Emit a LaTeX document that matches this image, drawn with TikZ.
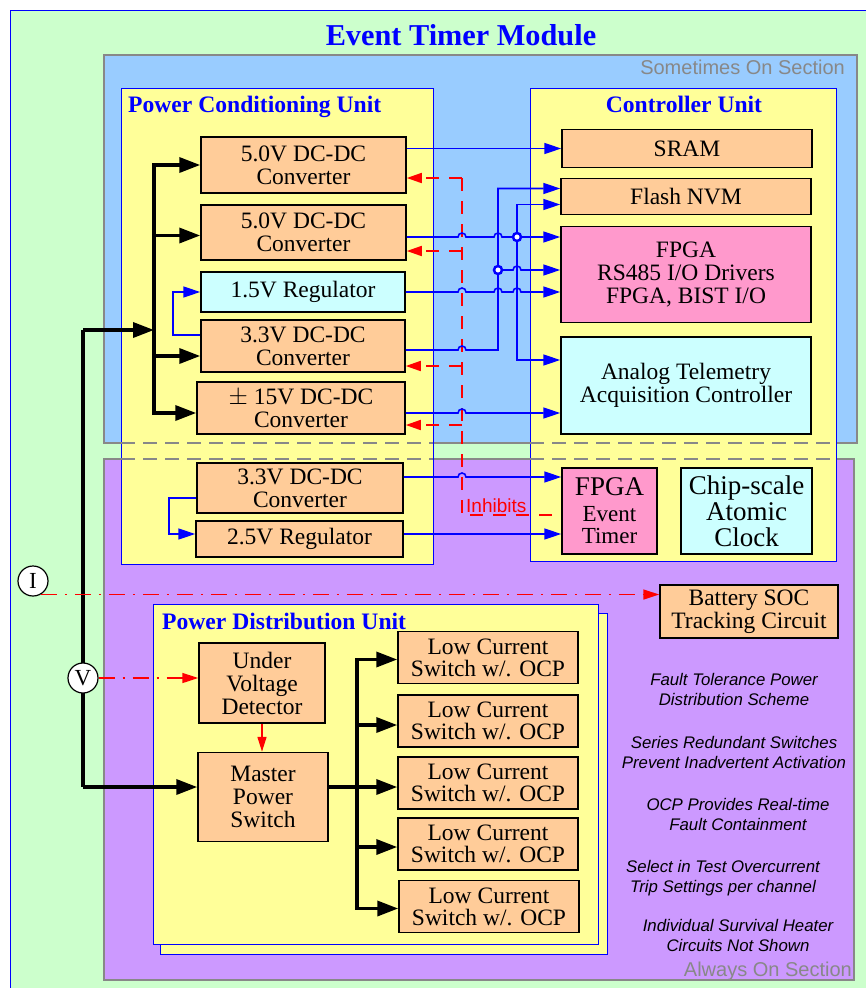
\documentclass[tikz,border=0pt]{standalone}
\usepackage{fontspec}
\setmainfont{Liberation Serif}
\newfontfamily\sansfont{Liberation Sans}
\usetikzlibrary{arrows.meta,positioning,calc}
\definecolor{bggreen}{HTML}{CCFFCC}
\definecolor{sometimes}{HTML}{99CCFF}
\definecolor{always}{HTML}{CC99FF}
\definecolor{unitbg}{HTML}{FFFF99}
\definecolor{peach}{HTML}{FFCC99}
\definecolor{pinkish}{HTML}{FF99CC}
\definecolor{ice}{HTML}{CCFFFF}
\definecolor{wire}{HTML}{0000FF}
\definecolor{secgray}{HTML}{888888}

\begin{document}
\begin{tikzpicture}[x=1pt,y=-1pt,>=Latex]
  \tikzset{
    block/.style={draw=black,line width=1.5pt,fill=peach,align=center,inner sep=0pt,font=\fontsize{23.5}{23}\selectfont},
    section/.style={draw=secgray,line width=2.5pt},
    secdash/.style={draw=secgray,line width=1.6pt,dash pattern=on 14pt off 8pt},
    unit/.style={draw=wire,line width=0.8pt,fill=unitbg},
    unittitle/.style={text=wire,inner sep=0pt,font=\bfseries\fontsize{23.6}{23.6}\selectfont},
    seclabel/.style={text=secgray,inner sep=0pt,font=\sansfont\fontsize{20}{20}\selectfont},
    note/.style={align=center,inner sep=0pt,font=\sansfont\itshape\fontsize{16.8}{20}\selectfont},
    meter/.style={circle,draw=black,line width=1.2pt,fill=white,minimum size=30pt,inner sep=0pt,font=\fontsize{23}{23}\selectfont},
    junction/.style={circle,draw=wire,fill=white,line width=2.5pt,inner sep=0pt,minimum size=8pt},
    power/.style={draw=black,line width=3.5pt,>={Triangle[length=21pt,width=15pt]}},
    feed/.style={draw=wire,line width=1.6pt,>={Triangle[length=17pt,width=11pt]}},
    inhibit/.style={draw=red,line width=1.6pt,dash pattern=on 13pt off 10pt,>={Triangle[length=15pt,width=10pt]}},
    sense/.style={draw=red,line width=1.6pt,dash pattern=on 16pt off 8pt on 2pt off 8pt,>={Triangle[length=16pt,width=10pt]}},
    trip/.style={draw=red,line width=1.6pt,>={Triangle[length=15pt,width=9pt]}}
  }
  \useasboundingbox (0,0) rectangle (865,988);

  % module frame and sections
  \draw[wire,line width=1pt,fill=bggreen] (10,10) rectangle (870,995);
  \node[unittitle,anchor=base,font=\bfseries\fontsize{30.3}{30}\selectfont] (title) at (461,45) {Event Timer Module};
  \draw[section,fill=sometimes] (104,55) rectangle (857,443);
  \draw[section,fill=always] (104,459) rectangle (854,980);
  \node[seclabel,anchor=base east] (sometimeslbl) at (845,74) {Sometimes On Section};
  \node[seclabel,anchor=base east] (alwayslbl) at (852,976) {Always On Section};

  % units
  \draw[unit] (121,88) rectangle (433,564);
  \draw[unit] (530,88) rectangle (836,561);
  \draw[secdash] (121,443) -- (433,443) (530,443) -- (857,443);
  \draw[secdash] (121,459) -- (433,459) (530,459) -- (836,459);
  \node[unittitle,anchor=base west] (pcutitle) at (128,112) {Power Conditioning Unit};
  \node[unittitle,anchor=base] (cutitle) at (684,112) {Controller Unit};
  \draw[unit] (160,613) rectangle (607,954);
  \draw[unit] (153,604) rectangle (598,944);
  \node[unittitle,anchor=base west] (pdutitle) at (162,629) {Power Distribution Unit};

  % power conditioning unit
  \node[block,minimum width=205pt,minimum height=56pt] (c50a) at (303.5,165) {5.0V DC-DC\\Converter};
  \node[block,minimum width=205pt,minimum height=55pt] (c50b) at (303.5,232.5) {5.0V DC-DC\\Converter};
  \node[block,fill=ice,minimum width=204pt,minimum height=40pt] (r15) at (303,292) {1.5V Regulator};
  \node[block,minimum width=204pt,minimum height=52pt] (c33a) at (303,346) {3.3V DC-DC\\Converter};
  \node[block,minimum width=208pt,minimum height=52pt] (c15) at (301,408) {$\pm$ 15V DC-DC\\Converter};
  \node[block,minimum width=206pt,minimum height=50pt] (c33b) at (300,488) {3.3V DC-DC\\Converter};
  \node[block,minimum width=207pt,minimum height=36pt] (r25) at (299.5,539) {2.5V Regulator};

  % controller unit
  \node[block,minimum width=250pt,minimum height=38pt] (sram) at (687,148.5) {SRAM};
  \node[block,minimum width=250pt,minimum height=36pt] (flash) at (686,196.5) {Flash NVM};
  \node[block,fill=pinkish,minimum width=250pt,minimum height=96pt] (fpga) at (686,274.5) {FPGA\\RS485 I/O Drivers\\FPGA, BIST I/O};
  \node[block,fill=ice,minimum width=250pt,minimum height=97pt] (atac) at (686,385.5) {Analog Telemetry\\Acquisition Controller};
  \node[block,fill=pinkish,minimum width=95pt,minimum height=86pt,font=\fontsize{23}{22}\selectfont] (fpgaet) at (609.5,511) {{\fontsize{27}{27}\selectfont FPGA}\\[4pt]Event\\Timer};
  \node[block,fill=ice,minimum width=131pt,minimum height=86pt,font=\fontsize{27}{26}\selectfont] (csac) at (746.5,511) {Chip-scale\\Atomic\\Clock};

  % always on parts
  \node[block,minimum width=178pt,minimum height=53pt] (soc) at (749,611.5) {Battery SOC\\Tracking Circuit};
  \node[block,minimum width=126pt,minimum height=80pt] (uvd) at (262,683) {Under\\Voltage\\Detector};
  \node[block,minimum width=130pt,minimum height=89pt] (mps) at (263,797) {Master\\Power\\Switch};
  \node[block,minimum width=180pt,minimum height=52pt,font=\fontsize{23.5}{22}\selectfont] (lcs1) at (488,657.5) {Low Current\\Switch w/. OCP};
  \node[block,minimum width=180pt,minimum height=52pt,font=\fontsize{23.5}{22}\selectfont] (lcs2) at (488,721) {Low Current\\Switch w/. OCP};
  \node[block,minimum width=180pt,minimum height=52pt,font=\fontsize{23.5}{22}\selectfont] (lcs3) at (488,783) {Low Current\\Switch w/. OCP};
  \node[block,minimum width=180pt,minimum height=52pt,font=\fontsize{23.5}{22}\selectfont] (lcs4) at (488,844) {Low Current\\Switch w/. OCP};
  \node[block,minimum width=180pt,minimum height=52pt,font=\fontsize{23.5}{22}\selectfont] (lcs5) at (489,906.5) {Low Current\\Switch w/. OCP};

  % notes
  \node[note] (note1) at (734,689) {Fault Tolerance Power\\Distribution Scheme};
  \node[note] (note2) at (734,752) {Series Redundant Switches\\Prevent Inadvertent Activation};
  \node[note] (note3) at (738,814) {OCP Provides Real-time\\Fault Containment};
  \node[note] (note4) at (723,878) {Select in Test Overcurrent\\Trip Settings per channel};
  \node[note] (note5) at (738,935) {Individual Survival Heater\\Circuits Not Shown};

  % main power feed
  \coordinate (feedtop) at (83,330);
  \coordinate (feedbot) at (83,787);
  \coordinate (pcbus) at (154,330);
  \coordinate (pdbus) at (357,787);
  \draw[power] (feedtop) -- (feedbot);
  \draw[power,->] (feedtop) -- (pcbus);
  \draw[power,->] (feedbot) -- (feedbot -| mps.west);
  \draw[power,->] (pcbus) |- (c50a.west);
  \draw[power,->] (pcbus) |- ([yshift=-3pt]c50b.west);
  \draw[power,->] (pcbus) |- ([yshift=-10pt]c33a.west);
  \draw[power,->] (pcbus) |- ([yshift=-5pt]c15.west);
  \draw[power] (mps.east |- pdbus) -- (pdbus);
  \draw[power,->] (pdbus) |- ([yshift=-2pt]lcs1.west);
  \draw[power,->] (pdbus) |- ([yshift=-4pt]lcs2.west);
  \draw[power,->] (pdbus) |- ([yshift=-4pt]lcs3.west);
  \draw[power,->] (pdbus) |- ([yshift=-3pt]lcs4.west);
  \draw[power,->] (pdbus) |- ([yshift=-2pt]lcs5.west);

  % inhibits
  \coordinate (inhtop) at (462,178);
  \coordinate (inhbot) at (462,515);
  \coordinate (ih2) at (462,251);
  \coordinate (ih3) at (462,366);
  \coordinate (ih4) at (462,425);
  \draw[inhibit] (inhtop) -- (inhbot) -- (inhbot -| fpgaet.west);
  \draw[inhibit,->] (inhtop) -- (inhtop -| c50a.east);
  \draw[inhibit,->] (ih2) -- (ih2 -| c50b.east);
  \draw[inhibit,->] (ih3) -- (ih3 -| c33a.east);
  \draw[inhibit,->] (ih4) -- (ih4 -| c15.east);
  \node[anchor=base west,inner sep=0pt,text=red,font=\sansfont\fontsize{19}{19}\selectfont] (inhlbl) at (466,512) {Inhibits};

  % secondary power to the controller
  \coordinate (busA) at (498,188);
  \coordinate (jA) at (498,270);
  \coordinate (jB) at (517,237);
  \coordinate (a33) at (498,350);
  \coordinate (a15) at (462,413);
  \coordinate (e33) at (462,477);
  \coordinate (e25) at (462,534);
  \draw[feed,->] (c50a.east |- sram.west) -- (sram.west);
  \draw[feed,->] (c50b.east |- jB) -- ($(inhtop |- jB)+(-4,0)$) arc[start angle=180,end angle=0,radius=4pt]
    -- ($(busA |- jB)+(-4,0)$) arc[start angle=180,end angle=0,radius=4pt] -- (jB) -- (jB -| fpga.west);
  \draw[feed,->] (jB) |- ([yshift=-8pt]flash.west);
  \draw[feed,->] (jB) |- ([yshift=25.5pt]atac.west);
  \draw[feed,->] (c33a.east |- a33) -- ($(inhtop |- a33)+(-4,0)$) arc[start angle=180,end angle=0,radius=4pt]
    -- (a33) |- ([yshift=8pt]flash.west);
  \draw[feed,->] (jA) -- ($(jB |- jA)+(-4,0)$) arc[start angle=180,end angle=0,radius=4pt] -- (jA -| fpga.west);
  \draw[feed,->] (r15.east) -- ($(inhtop |- r15.east)+(-4,0)$) arc[start angle=180,end angle=0,radius=4pt]
    -- ($(busA |- r15.east)+(-4,0)$) arc[start angle=180,end angle=0,radius=4pt]
    -- ($(jB |- r15.east)+(-4,0)$) arc[start angle=180,end angle=0,radius=4pt] -- (r15.east -| fpga.west);
  \draw[feed,->] (a15 -| c15.east) -- ($(a15)+(-4,0)$) arc[start angle=180,end angle=0,radius=4pt] -- (a15 -| atac.west);
  \node[junction] (dotA) at (jA) {};
  \node[junction] (dotB) at (jB) {};
  \draw[feed,->] ([yshift=11pt]c33a.west) -- ++(-27,0) |- (r15.west);
  \draw[feed,->] (e33 -| c33b.east) -- ($(e33)+(-4,0)$) arc[start angle=180,end angle=0,radius=4pt] -- (e33 -| fpgaet.west);
  \draw[feed,->] (e25 -| r25.east) -- (e25 -| fpgaet.west);
  \draw[feed,->] ([yshift=-10pt]c33b.west) -- ++(-27,0) |- ([yshift=5pt]r25.west);

  % monitors
  \node[meter] (V) at (83,678) {V};
  \node[meter] (I) at (33,581) {I};
  \draw[sense,->] (I.-60) -- (I.-60 -| soc.west);
  \draw[sense,->] (V) -- (V -| uvd.west);
  \draw[trip,->] (uvd.south) -- (uvd.south |- mps.north);
\end{tikzpicture}
\end{document}
